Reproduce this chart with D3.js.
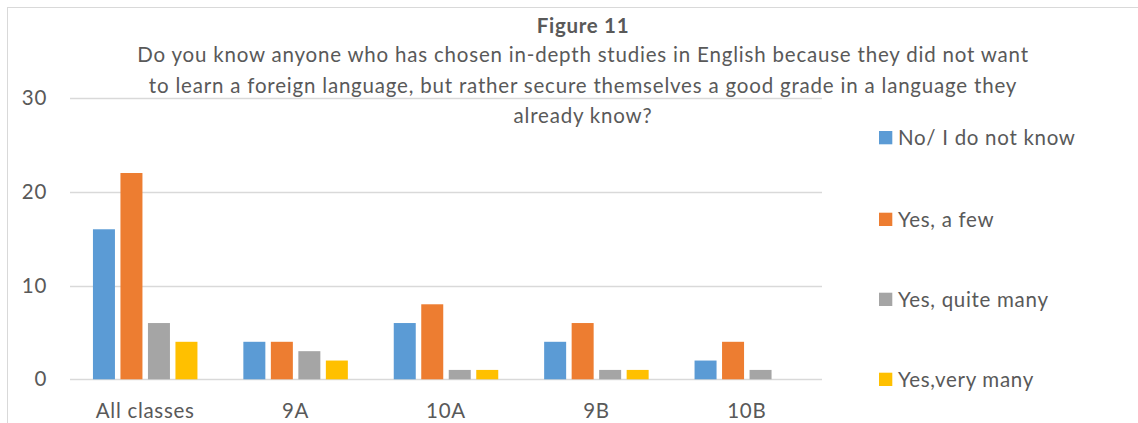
<!DOCTYPE html>
<html>
<head>
<meta charset="utf-8">
<script src="https://cdnjs.cloudflare.com/ajax/libs/d3/7.8.5/d3.min.js"></script>
<style>
body { margin: 0; background: #fff; }
text { font-family: Lato, "Open Sans", sans-serif; fill: #595959; letter-spacing: 0.7px; }
</style>
</head>
<body>
<svg id="chart" width="1138" height="423"></svg>
<script>
var categories = ["All classes", "9A", "10A", "9B", "10B"];
var series = ["No/ I do not know", "Yes, a few", "Yes, quite many", "Yes,very many"];
var noKnow    = [16, 4, 6, 4, 2];
var aFew      = [22, 4, 8, 6, 4];
var quiteMany = [6, 3, 1, 1, 1];
var veryMany  = [4, 2, 1, 1, 0];
var yTicks = [0, 10, 20, 30];
var titleLines = [
  "Do you know anyone who has chosen in-depth studies in English because they did not want",
  "to learn a foreign language, but rather secure themselves a good grade in a language they",
  "already know?"
];
var colors = ["#5B9BD5", "#ED7D31", "#A5A5A5", "#FFC000"];

var values = [noKnow, aFew, quiteMany, veryMany];

var svg = d3.select("#chart");

// outer chart border
svg.append("rect")
  .attr("x", 7.5).attr("y", 7.5)
  .attr("width", 1140).attr("height", 440)
  .attr("fill", "#fff")
  .attr("stroke", "#d9d9d9");

var y = d3.scaleLinear().domain([0, 30]).range([379.3, 98]);
var x0 = d3.scaleBand().domain(categories).range([70, 822]);
var x1 = d3.scaleBand().domain(series).range([-52.25, 52.25]).paddingInner(0.2);

// gridlines
svg.append("g").selectAll("line")
  .data(yTicks)
  .enter().append("line")
    .attr("x1", 70).attr("x2", 822)
    .attr("y1", function(d) { return Math.round(y(d)) + 0.5; })
    .attr("y2", function(d) { return Math.round(y(d)) + 0.5; })
    .attr("stroke", "#d9d9d9")
    .attr("stroke-width", 1.3);

// y tick labels
svg.append("g").selectAll("text")
  .data(yTicks)
  .enter().append("text")
    .attr("x", 47)
    .attr("y", function(d) { return y(d) + 7; })
    .attr("text-anchor", "end")
    .attr("font-size", 20.5)
    .text(function(d) { return d; });

// bars
var groups = svg.append("g").selectAll("g")
  .data(categories)
  .enter().append("g")
    .attr("transform", function(d) { return "translate(" + (x0(d) + x0.bandwidth() / 2) + ",0)"; });

groups.selectAll("rect")
  .data(function(c, ci) { return series.map(function(s, si) { return {s: s, si: si, v: values[si][ci]}; }); })
  .enter().append("rect")
    .attr("x", function(d) { return x1(d.s); })
    .attr("width", x1.bandwidth())
    .attr("y", function(d) { return y(d.v); })
    .attr("height", function(d) { return y(0) - y(d.v); })
    .attr("fill", function(d) { return colors[d.si]; });

// category labels
svg.append("g").selectAll("text")
  .data(categories)
  .enter().append("text")
    .attr("x", function(d) { return x0(d) + x0.bandwidth() / 2; })
    .attr("y", 418)
    .attr("text-anchor", "middle")
    .attr("font-size", 20.5)
    .text(function(d) { return d; });

// title
svg.append("text")
  .attr("x", 583).attr("y", 33)
  .attr("text-anchor", "middle")
  .attr("font-size", 20.5)
  .attr("font-weight", "bold")
  .text("Figure 11");

svg.append("g").selectAll("text")
  .data(titleLines)
  .enter().append("text")
    .attr("x", 583)
    .attr("y", function(d, i) { return 62 + i * 30.5; })
    .attr("text-anchor", "middle")
    .attr("font-size", 20.5)
    .style("letter-spacing", "0.8px")
    .text(function(d) { return d; });

// legend
var legTop = [131, 212.7, 292.7, 372.7];
var leg = svg.append("g").selectAll("g")
  .data(series)
  .enter().append("g")
    .attr("transform", function(d, i) { return "translate(879," + legTop[i] + ")"; });

leg.append("rect")
  .attr("x", 0).attr("y", 0)
  .attr("width", 13.3).attr("height", 13.3)
  .attr("fill", function(d, i) { return colors[i]; });

leg.append("text")
  .attr("x", 19).attr("y", 14.3)
  .attr("font-size", 20.5)
  .text(function(d) { return d; });
</script>
</body>
</html>
